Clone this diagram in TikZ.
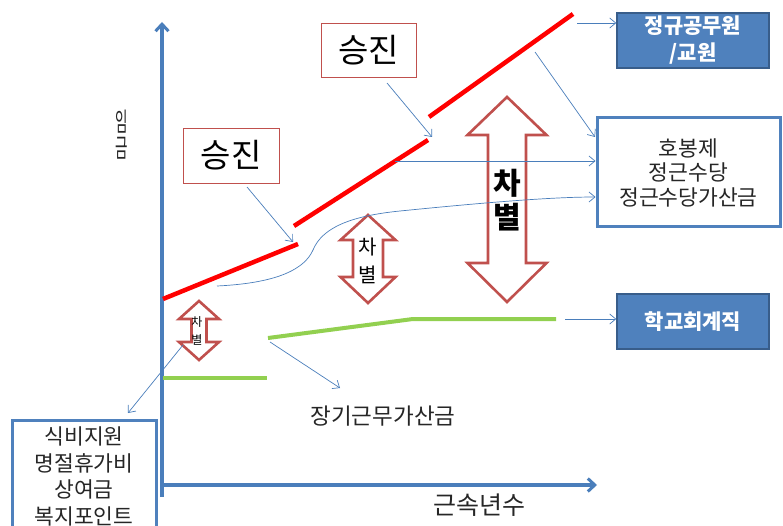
\documentclass[tikz,border=0pt]{standalone}
\usepackage{fontspec}
\usepackage{graphicx}
\setmainfont{Noto Sans CJK KR}
\usetikzlibrary{arrows.meta}
\definecolor{axblue}{HTML}{4A7EBB}
\definecolor{boxblue}{HTML}{4F81BD}
\definecolor{boxedge}{HTML}{385D8A}
\definecolor{dred}{HTML}{C0504D}
\definecolor{lgreen}{HTML}{92D050}
\definecolor{txt}{HTML}{262626}
\newcommand{\dbarrow}[7]{%
\draw[dblarr] (#1,#2) -- (#1+#6,#3) -- (#1+#7,#3) -- (#1+#7,#4) -- (#1+#6,#4) -- (#1,#5) -- (#1-#6,#4) -- (#1-#7,#4) -- (#1-#7,#3) -- (#1-#6,#3) -- cycle;}
\tikzset{
  axis/.style={draw=axblue, line width=3.5pt, -{Straight Barb[length=7pt,width=13pt,line width=3pt]}},
  conn/.style={draw=axblue, line width=0.7pt, -{Straight Barb[length=6pt,width=10pt,line width=0.7pt]}},
  redline/.style={draw=red, line width=4.5pt},
  grline/.style={draw=lgreen, line width=4pt},
  dblarr/.style={draw=dred, line width=2.6pt, fill=white, line join=miter},
  promo/.style={draw=dred, line width=0.9pt, fill=white, minimum width=96pt, minimum height=55pt, inner sep=0pt, font=\fontsize{33}{35}\selectfont},
  solidbox/.style={draw=boxedge, line width=1.5pt, fill=boxblue, text=white, minimum width=152pt, minimum height=55pt, inner sep=0pt, align=center, font=\bfseries\fontsize{21}{27}\selectfont},
  openbox/.style={draw=boxblue, line width=3pt, fill=white, inner sep=0pt, align=center, text=txt},
  lbl/.style={text=txt, inner sep=0pt}
}
\begin{document}
\begin{tikzpicture}[x=1pt,y=-1pt]
\useasboundingbox (0,0) rectangle (783,526);
% axes
\coordinate (O) at (162,485);
\coordinate (ytop) at (162,22);
\coordinate (xend) at (597,485);
\draw[axis] (162,497) -- (ytop);
\draw[axis] (O) -- (xend);
\node[lbl, align=center, font=\fontsize{26}{26}\selectfont] (yl) at (121.5,135) {\scalebox{0.52}[1]{임}\\\scalebox{0.52}[1]{금}};
\node[lbl, font=\fontsize{25}{27}\selectfont] (xl) at (479,505) {근속년수};
% red lines
\coordinate (r1a) at (163,299); \coordinate (r1b) at (298,244);
\coordinate (r2a) at (294,226); \coordinate (r2b) at (428,140);
\coordinate (r3a) at (429,117); \coordinate (r3b) at (573,14);
\draw[redline] (r1a) -- (r1b);
\draw[redline] (r2a) -- (r2b);
\draw[redline] (r3a) -- (r3b);
% green lines
\coordinate (g1a) at (163,378); \coordinate (g1b) at (267,378);
\coordinate (g2a) at (268,338); \coordinate (g2m) at (413,319); \coordinate (g2b) at (556,319);
\draw[grline] (g1a) -- (g1b);
\draw[grline] (g2a) -- (g2m) -- (g2b);
% boxes
\node[promo] (p1) at (231,155.5) {승진};
\node[promo, minimum width=95pt, minimum height=54pt] (p2) at (368.5,50) {승진};
\node[solidbox] (reg) at (693,40.5) {정규공무원\\/교원};
\node[solidbox] (school) at (693,321.5) {학교회계직};
\node[openbox, minimum width=183pt, minimum height=109pt, font=\fontsize{21.5}{24.5}\selectfont] (hob) at (688.5,172.5) {호봉제\\정근수당\\정근수당가산금};
\node[openbox, minimum width=144pt, minimum height=112pt, font=\fontsize{21.5}{26.5}\selectfont, anchor=north] (meal) at (84,419) {식비지원\\명절휴가비\\상여금\\복지포인트};
\node[lbl, font=\fontsize{22.5}{24}\selectfont] (long) at (383,416) {장기근무가산금};
% double arrows
\dbarrow{507}{97}{135}{263}{302}{39.5}{19}
\dbarrow{368}{215}{240}{277}{303}{27.5}{15}
\dbarrow{199}{301}{319}{342}{360}{20}{7.5}
\node[lbl, align=center, font=\bfseries\fontsize{30}{34}\selectfont, text=black] (d1) at (507,200) {차\\별};
\node[lbl, align=center, font=\fontsize{20}{28}\selectfont, text=black] (d2) at (368,261) {차\\별};
\node[lbl, align=center, font=\fontsize{12}{18}\selectfont, text=black] (d3) at (197,331) {차\\별};
% connectors
\coordinate (c1s) at (247,187); \coordinate (c1e) at (293,242);
\coordinate (c2s) at (387,83); \coordinate (c2e) at (432,137);
\draw[conn] (c1s) -- (c1e);
\draw[conn] (c2s) -- (c2e);
\coordinate (c3s) at (577,23);
\draw[conn] (c3s) -- (reg.west |- c3s);
\coordinate (c4s) at (535,52);
\draw[conn] (c4s) -- (595,137);
\coordinate (c5s) at (395,161);
\draw[conn] (c5s) -- (hob.west |- c5s);
\coordinate (c6s) at (217,286);
\draw[conn] (c6s) .. controls (280,283) and (305,268) .. (313,250) .. controls (322,228) and (350,216) .. (400,211) .. controls (480,203) and (550,197) .. (hob.west |- 0,197);
\coordinate (c7s) at (565,319);
\draw[conn] (c7s) -- (school.west |- c7s);
\coordinate (c8s) at (183,345); \coordinate (c8e) at (128,413);
\draw[conn] (c8s) -- (c8e);
\coordinate (c9s) at (270,342); \coordinate (c9e) at (340,388);
\draw[conn] (c9s) -- (c9e);
\end{tikzpicture}
\end{document}
